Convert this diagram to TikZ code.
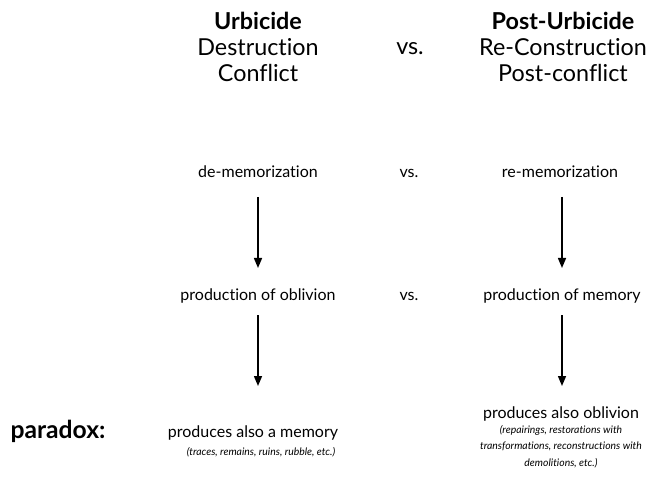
\documentclass[tikz,border=0pt]{standalone}
\usepackage{fontspec}
\setmainfont{Lato}[Ligatures={NoCommon}]
\usepackage{tikz}
\usetikzlibrary{arrows.meta}

\begin{document}
\begin{tikzpicture}[x=0.75pt,y=-0.75pt,
  head/.style={font=\fontsize{17.5}{19.2}\selectfont, align=center, inner sep=0pt},
  body/.style={font=\fontsize{12}{14}\selectfont, inner sep=0pt, text height=0.72em, text depth=0.22em},
  note/.style={font=\fontsize{7.8}{12.3}\selectfont\itshape, align=center, inner sep=0pt},
  >={Triangle[length=7.5pt,width=6pt]}, line width=1.1pt]
\useasboundingbox (0,0) rectangle (660,477);
% headings
\node[head] (urb) at (258,47) {{\bfseries Urbicide}\\Destruction\\Conflict};
\node[head, text height=0.72em, text depth=0.22em] (vs0) at (410,51) {vs.};
\node[head] (post) at (563,47) {{\bfseries Post-Urbicide}\\Re-Construction\\Post-conflict};
% first row
\node[body] (dem) at (258,174) {de-memorization};
\node[body] (vs1) at (409,174) {vs.};
\node[body] (rem) at (560,174) {re-memorization};
% second row
\node[body] (obl) at (258,297) {production of oblivion};
\node[body] (vs2) at (409,297) {vs.};
\node[body] (mem) at (562,297) {production of memory};
% paradox row
\node[font=\fontsize{18.5}{20}\selectfont\bfseries, inner sep=0pt] (par) at (58,431) {paradox:};
\node[body] (pmem) at (253,434) {produces also a memory};
\node[note] (pmemn) at (261,452) {(\textit{traces, remains, ruins, rubble, etc.})};
\node[body] (pobl) at (561,415) {produces also oblivion};
\node[note, below=2pt] (poblb) at (pobl.south) {(\textit{repairings, restorations with}\\\textit{transformations, reconstructions with}\\\textit{demolitions, etc.})};
% arrows
\coordinate (a1) at (258,197); \coordinate (b1) at (258,268);
\coordinate (a2) at (562,197); \coordinate (b2) at (562,268);
\coordinate (a3) at (258,315); \coordinate (b3) at (258,386);
\coordinate (a4) at (562,315); \coordinate (b4) at (562,386);
\draw[->] (a1) -- (b1);
\draw[->] (a2) -- (b2);
\draw[->] (a3) -- (b3);
\draw[->] (a4) -- (b4);
\end{tikzpicture}
\end{document}
